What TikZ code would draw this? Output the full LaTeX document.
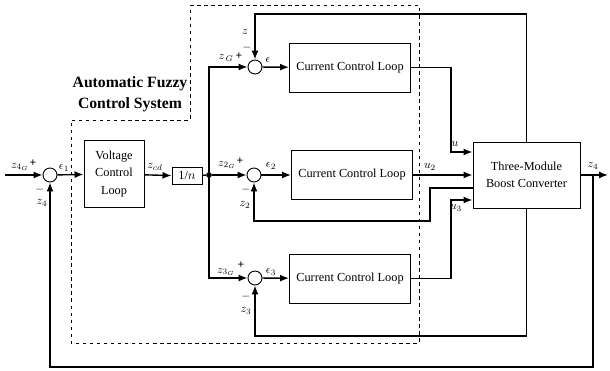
\documentclass[tikz,border=0pt]{standalone}
\usepackage{fontspec}
\setmainfont{Liberation Serif}
\usetikzlibrary{arrows.meta}

\begin{document}
\begin{tikzpicture}[x=0.03cm, y=-0.03cm, >={Latex[length=2.7mm,width=2.1mm]},
  blk/.style={draw, line width=0.8pt, align=center, inner sep=1pt, font=\fontsize{10.5}{15}\selectfont},
  ccl/.style={blk, minimum width=3.63cm, minimum height=1.47cm},
  sum/.style={circle, draw, line width=0.8pt, minimum size=0.42cm, inner sep=0pt},
  dot/.style={circle, fill, inner sep=0pt, minimum size=0.17cm},
  edge/.style={->, line width=1.2pt},
  line/.style={line width=1.2pt},
  lab/.style={font=\normalsize, inner sep=1pt},
  sgn/.style={font=\bfseries, inner sep=0pt}
]
\useasboundingbox (0,0) rectangle (610,371);

% fuzzy control region
\draw[dashed, line width=0.8pt] (190,5) -- (419,5) -- (419,343) -- (71,343) -- (71,120) -- (190,120) -- cycle;
\node[font=\fontsize{13.4}{18}\selectfont\bfseries, align=center] (title) at (130,94) {Automatic Fuzzy\\Control System};

% blocks
\node[sum] (s1) at (50,175) {};
\node[blk, minimum width=1.8cm, minimum height=2.01cm] (vcl) at (114,174) {Voltage\\Control\\Loop};
\node[blk, minimum width=0.9cm, minimum height=0.51cm] (inv) at (187,176) {1/$n$};
\node[dot] (j) at (209,175) {};
\node[sum] (s2) at (255,67) {};
\node[sum] (s3) at (254,175) {};
\node[sum] (s4) at (255,278) {};
\node[ccl] (c1) at (350,67.5) {Current Control Loop};
\node[ccl] (c2) at (352,175) {Current Control Loop};
\node[ccl] (c3) at (350,278.5) {Current Control Loop};
\node[blk, minimum width=3.21cm, minimum height=1.98cm] (conv) at (526.5,175) {Three-Module\\Boost Converter};

\coordinate (in) at (5,175);
\coordinate (out) at (608,175);
\coordinate (tap) at (593,175);
\coordinate (k1) at (451,152);
\coordinate (k2) at (430,188);
\coordinate (k2b) at (430,221);
\coordinate (k3) at (451,200);
\coordinate (t) at (0,14);
\coordinate (b) at (0,336);
\coordinate (b4) at (0,367);

% forward path
\draw[edge] (in) -- (s1);
\draw[edge] (s1) -- (vcl);
\draw[edge] (vcl) -- (inv);
\draw[line] (inv) -- (j);
\draw[edge] (j) -- (s3);
\draw[edge] (j.center) |- (s2);
\draw[edge] (j.center) |- (s4);
\draw[edge] (s2) -- (c1);
\draw[edge] (s3) -- (c2);
\draw[edge] (s4) -- (c3);
\draw[edge] (c1.east) -| (k1) -- (k1 -| conv.west);
\draw[edge] (c2.east) -- (c2.east -| conv.west);
\draw[edge] (c3.east) -| (k3) -- (k3 -| conv.west);
\draw[edge] (conv) -- (out);

% feedback
\draw[edge] (conv.north) -- (conv.north |- t) -| (s2);
\draw[edge] (k2 -| conv.west) -- (k2) -- (k2b) -| (s3);
\draw[edge] (conv.south) -- (conv.south |- b) -| (s4);
\draw[edge] (tap) -- (tap |- b4) -| (s1);

% labels
\node[lab] (l1) at (20,167) {$z_{4_G}$};
\node[sgn] (p1) at (33,163) {+};
\node[sgn] (m1) at (40,190) {$-$};
\node[lab] (l2) at (42,203) {$z_4$};
\node[lab] (e1) at (64,168) {$\epsilon_1$};
\node[lab] (l3) at (155,167) {$z_{cd}$};
\node[lab] (l4) at (226,58) {$z_{\,G}$};
\node[sgn] (p2) at (239,56) {+};
\node[lab] (e2) at (268,60) {$\epsilon$};
\node[lab] (l5) at (245,32) {$z$};
\node[sgn] (m2) at (247,48) {$-$};
\node[lab] (l6) at (227,165) {$z_{2_G}$};
\node[sgn] (p3) at (240,161) {+};
\node[lab] (e3) at (271,166) {$\epsilon_2$};
\node[sgn] (m3) at (246,190) {$-$};
\node[lab] (l7) at (245,205) {$z_2$};
\node[lab] (l8) at (226,272) {$z_{3_G}$};
\node[sgn] (p4) at (241,265) {+};
\node[lab] (e4) at (271,272) {$\epsilon_3$};
\node[sgn] (m4) at (246,297) {$-$};
\node[lab] (l9) at (246,311) {$z_3$};
\node[lab] (u1) at (455,144) {$u$};
\node[lab] (u2) at (430,167) {$u_2$};
\node[lab] (u3) at (456,208) {$u_3$};
\node[lab] (l10) at (593,166) {$z_4$};
\end{tikzpicture}
\end{document}
